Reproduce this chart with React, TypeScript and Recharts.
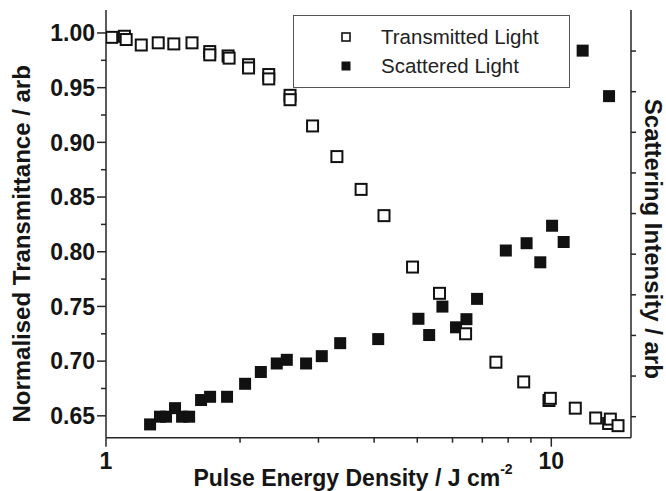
import React from "react";
import { ScatterChart, Scatter, XAxis, YAxis, Legend, Label } from "recharts";

// Transmitted light (open squares)
const transmittedEnergy = [
  1.03, 1.1, 1.11, 1.2, 1.31, 1.42, 1.56, 1.71, 1.71, 1.88, 1.89, 2.09, 2.09,
  2.32, 2.32, 2.59, 2.59, 2.91, 3.3, 3.74, 4.21, 4.88, 5.61, 6.42, 7.51, 8.67,
  9.88, 9.95, 11.32, 12.58, 13.45, 13.57, 14.12,
];
const transmittance = [
  0.996, 0.997, 0.994, 0.989, 0.991, 0.99, 0.991, 0.983, 0.98, 0.979, 0.977,
  0.971, 0.968, 0.962, 0.958, 0.943, 0.939, 0.915, 0.887, 0.857, 0.833, 0.786,
  0.762, 0.725, 0.699, 0.681, 0.664, 0.666, 0.657, 0.648, 0.643, 0.647, 0.641,
];

// Scattered light (filled squares), right axis in arbitrary units
const scatteredEnergy = [
  1.256, 1.322, 1.364, 1.429, 1.482, 1.537, 1.635, 1.713, 1.87, 2.053, 2.227,
  2.418, 2.547, 2.814, 3.052, 3.357, 4.086, 5.031, 5.318, 5.695, 6.11, 6.448,
  6.812, 7.904, 8.8, 9.447, 10.04, 10.66, 11.76, 13.48,
];
const scatteringIntensity = [
  0.81, 1.0, 1.0, 1.21, 1.0, 1.0, 1.41, 1.49, 1.49, 1.81, 2.1, 2.31, 2.4, 2.31,
  2.49, 2.81, 2.91, 3.41, 3.01, 3.71, 3.2, 3.4, 3.9, 5.09, 5.27, 4.8, 5.7, 5.3,
  10.01, 8.89,
];

const energyTicks = [1, 2, 3, 4, 5, 6, 7, 8, 9, 10];
const energyLabels = [1, 10];
const transTicks = [
  0.65, 0.675, 0.7, 0.725, 0.75, 0.775, 0.8, 0.825, 0.85, 0.875, 0.9, 0.925,
  0.95, 0.975, 1.0,
];
const scatterTicks = [1, 2, 3, 4, 5, 6, 7, 8, 9, 10];

const transmittedData = transmittedEnergy.map((e, i) => ({ e, t: transmittance[i] }));
const scatteredData = scatteredEnergy.map((e, i) => ({ e, s: scatteringIntensity[i] }));

const FONT = '"Liberation Sans", Arial, Helvetica, sans-serif';
const AXIS = "#262626";
const TEXT = "#151515";

const OpenSquare = (props: any) => (
  <rect x={props.cx - 5.5} y={props.cy - 5.5} width={11} height={11} fill="#fff" stroke="#111" strokeWidth={2} />
);
const FilledSquare = (props: any) => (
  <rect x={props.cx - 6} y={props.cy - 6} width={12} height={12} fill="#111" />
);

const BottomTick = (props: any) => {
  const { x, y, payload } = props;
  const major = energyLabels.includes(payload.value);
  return (
    <g>
      <line x1={x} x2={x} y1={y} y2={y + (major ? 9 : 5)} stroke={AXIS} strokeWidth={1.5} />
      {major && (
        <text x={x} y={y + 31} textAnchor="middle" fontFamily={FONT} fontWeight="bold" fontSize={23} fill={TEXT}>
          {payload.value}
        </text>
      )}
    </g>
  );
};

const TopTick = (props: any) => {
  const { x, y, payload } = props;
  const major = energyLabels.includes(payload.value);
  return <line x1={x} x2={x} y1={y} y2={y + (major ? 8 : 5)} stroke={AXIS} strokeWidth={1.5} />;
};

const LeftTick = (props: any) => {
  const { x, y, payload } = props;
  const major = Math.round(payload.value * 1000) % 50 === 0;
  return (
    <g>
      <line x1={x} x2={x - (major ? 9 : 5)} y1={y} y2={y} stroke={AXIS} strokeWidth={1.5} />
      {major && (
        <text x={x - 11} y={y} dy="0.36em" textAnchor="end" fontFamily={FONT} fontWeight="bold" fontSize={23} fill={TEXT}>
          {payload.value.toFixed(2)}
        </text>
      )}
    </g>
  );
};

const RightTick = (props: any) => {
  const { x, y } = props;
  return <line x1={x} x2={x + 5} y1={y} y2={y} stroke={AXIS} strokeWidth={1.5} />;
};

const renderLegend = (props: any) => {
  const { payload } = props;
  return (
    <div
      style={{
        position: "relative",
        width: 277,
        height: 73,
        border: "1.2px solid #555",
        boxSizing: "border-box",
        background: "#fff",
        fontFamily: FONT,
      }}
    >
      {(payload || []).map((entry: any, i: number) => (
        <div key={entry.value} style={{ position: "absolute", left: 0, top: i === 0 ? 21 : 50, height: 0 }}>
          <svg width={12} height={12} style={{ position: "absolute", left: 46, top: -6 }}>
            {entry.value === "Transmitted Light" ? (
              <rect x={2} y={2} width={8} height={8} fill="#fff" stroke="#111" strokeWidth={1.6} />
            ) : (
              <rect x={1.5} y={1.5} width={9} height={9} fill="#111" />
            )}
          </svg>
          <span
            style={{
              position: "absolute",
              left: 87,
              top: -12,
              fontSize: 20.5,
              lineHeight: "24px",
              whiteSpace: "nowrap",
              color: "#222",
            }}
          >
            {entry.value}
          </span>
        </div>
      ))}
    </div>
  );
};

const LeftTitle = (props: any) => {
  const vb = props.viewBox;
  const cx = vb.x + 30;
  const cy = vb.y + vb.height / 2 + 20;
  return (
    <text x={cx} y={cy} transform={`rotate(-90 ${cx} ${cy})`} textAnchor="middle" fontFamily={FONT} fontWeight="bold" fontSize={24} fill={TEXT}>
      Normalised Transmittance / arb
    </text>
  );
};

const RightTitle = (props: any) => {
  const vb = props.viewBox;
  const cx = vb.x + 14;
  const cy = vb.y + vb.height / 2 + 15;
  return (
    <text x={cx} y={cy} transform={`rotate(90 ${cx} ${cy})`} textAnchor="middle" fontFamily={FONT} fontWeight="bold" fontSize={24} fill={TEXT}>
      Scattering Intensity / arb
    </text>
  );
};

const BottomTitle = (props: any) => {
  const vb = props.viewBox;
  return (
    <text x={vb.x + 247} y={vb.y + 48} textAnchor="middle" fontFamily={FONT} fontWeight="bold" fontSize={23} fill={TEXT}>
      Pulse Energy Density / J cm
      <tspan dy={-12} fontSize={14}>-2</tspan>
    </text>
  );
};

export default function App() {
  return (
    <div style={{ position: "absolute", left: 0, top: 0, background: "#fff" }}>
      <ScatterChart width={666} height={491} margin={{ top: 10, right: 0, bottom: 0, left: 0 }}>
        <XAxis
          xAxisId="bottom"
          dataKey="e"
          type="number"
          scale="log"
          domain={[1, 15.1]}
          allowDataOverflow
          ticks={energyTicks}
          interval={0}
          height={53.3}
          tickSize={0}
          tickMargin={0}
          tickLine={false}
          tick={<BottomTick />}
          axisLine={{ stroke: AXIS, strokeWidth: 1.5 }}
        >
          <Label content={<BottomTitle />} />
        </XAxis>
        <XAxis
          xAxisId="top"
          orientation="top"
          dataKey="e"
          type="number"
          scale="log"
          domain={[1, 15.1]}
          allowDataOverflow
          ticks={energyTicks}
          interval={0}
          height={0}
          tickSize={0}
          tickMargin={0}
          tickLine={false}
          tick={<TopTick />}
          axisLine={{ stroke: AXIS, strokeWidth: 1.5 }}
        />
        <YAxis
          yAxisId="left"
          dataKey="t"
          type="number"
          domain={[0.63, 1.021]}
          allowDataOverflow
          ticks={transTicks}
          interval={0}
          width={106}
          tickSize={0}
          tickMargin={0}
          tickLine={false}
          tick={<LeftTick />}
          axisLine={{ stroke: AXIS, strokeWidth: 1.5 }}
        >
          <Label content={<LeftTitle />} />
        </YAxis>
        <YAxis
          yAxisId="right"
          orientation="right"
          dataKey="s"
          type="number"
          domain={[0.483, 11.01]}
          allowDataOverflow
          ticks={scatterTicks}
          interval={0}
          width={35}
          tickSize={0}
          tickMargin={0}
          tickLine={false}
          tick={<RightTick />}
          axisLine={{ stroke: AXIS, strokeWidth: 1.5 }}
        >
          <Label content={<RightTitle />} />
        </YAxis>
        <Scatter
          name="Scattered Light"
          data={scatteredData}
          xAxisId="top"
          yAxisId="right"
          fill="#111"
          shape={<FilledSquare />}
          isAnimationActive={false}
        />
        <Scatter
          name="Transmitted Light"
          data={transmittedData}
          xAxisId="bottom"
          yAxisId="left"
          fill="#fff"
          shape={<OpenSquare />}
          isAnimationActive={false}
        />
        <Legend
          layout="vertical"
          align="center"
          verticalAlign="middle"
          wrapperStyle={{ left: 293, top: 15, width: 277, height: 73 }}
          content={renderLegend}
          itemSorter={(item: any) => (item.value === "Transmitted Light" ? 0 : 1)}
        />
      </ScatterChart>
    </div>
  );
}
